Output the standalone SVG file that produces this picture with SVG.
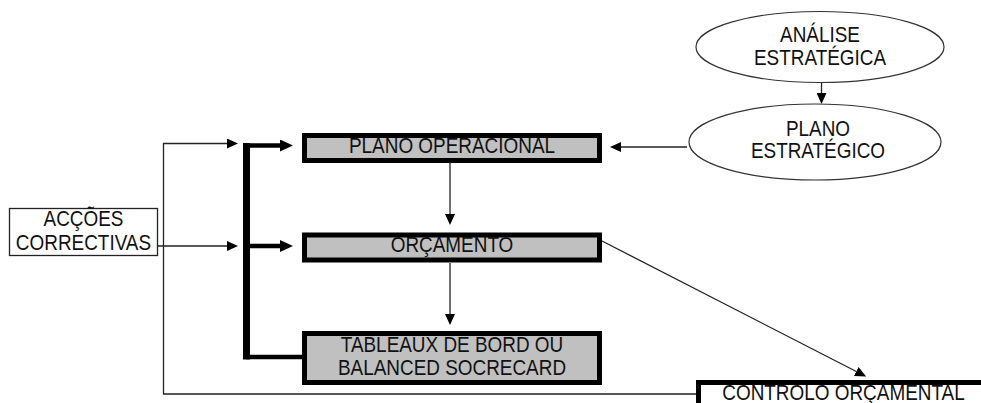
<svg xmlns="http://www.w3.org/2000/svg" width="981" height="403" viewBox="0 0 981 403">
<style>
text{font-family:"Liberation Sans",Arial,sans-serif;font-size:21.5px;fill:#111;text-anchor:middle;transform-box:fill-box;transform-origin:center;transform:scaleX(0.88)}
.box{fill:#c0c0c0;stroke:#000;stroke-width:5}
.thin{fill:none;stroke:#222;stroke-width:1.3}
.thick{fill:none;stroke:#000;stroke-width:4.5}
.ell{fill:#fff;stroke:#333;stroke-width:1.2}
</style>
<defs>
<marker id="ah" markerUnits="userSpaceOnUse" viewBox="0 0 11 10" markerWidth="11" markerHeight="10" refX="0" refY="5" orient="auto"><path d="M0,0 L11,5 L0,10 z" fill="#000"/></marker>
<marker id="ahT" markerUnits="userSpaceOnUse" viewBox="0 0 13 12" markerWidth="13" markerHeight="12" refX="0" refY="6" orient="auto"><path d="M0,0 L13,6 L0,12 z" fill="#000"/></marker>
</defs>
<rect width="981" height="403" fill="#fff"/>
<g id="connectors">
<path class="thin" d="M696 394 H163.5 V143.5 H227" marker-end="url(#ah)"/>
<path class="thin" d="M158 246 H227" marker-end="url(#ah)"/>
<path class="thin" d="M450 163 V214" marker-end="url(#ah)"/>
<path class="thin" d="M450 263 V314" marker-end="url(#ah)"/>
<path class="thin" d="M821.5 83 V93" marker-end="url(#ah)"/>
<path class="thin" d="M687 147 H621" marker-end="url(#ah)"/>
<path class="thin" d="M602 241 L856.3 371.5" marker-end="url(#ah)"/>
<line x1="246.5" y1="143" x2="246.5" y2="359.5" stroke="#000" stroke-width="7"/>
<path class="thick" d="M246.5 145.5 H280" marker-end="url(#ahT)"/>
<path class="thick" d="M246.5 246 H280" marker-end="url(#ahT)"/>
<path class="thick" d="M246.5 357 H302"/>
</g>
<g id="analise">
<ellipse class="ell" cx="820" cy="47" rx="124" ry="35.5"/>
<text x="820" y="42">ANÁLISE</text>
<text x="820" y="65">ESTRATÉGICA</text>
</g>
<g id="plano-estrategico">
<ellipse class="ell" cx="815" cy="142" rx="126" ry="38"/>
<text x="818" y="136">PLANO</text>
<text x="818" y="158">ESTRATÉGICO</text>
</g>
<g id="plano-operacional">
<rect class="box" x="304.5" y="135.5" width="295" height="25"/>
<text x="452" y="153">PLANO OPERACIONAL</text>
</g>
<g id="orcamento">
<rect class="box" x="304.5" y="235" width="295" height="25"/>
<text x="452" y="252">ORÇAMENTO</text>
</g>
<g id="tableaux">
<rect class="box" x="304.5" y="333.5" width="295" height="49"/>
<text x="452" y="352.5">TABLEAUX DE BORD OU</text>
<text x="452" y="375.5">BALANCED SOCRECARD</text>
</g>
<g id="accoes">
<rect x="9.5" y="208.5" width="148" height="47" fill="#fff" stroke="#222" stroke-width="1.3"/>
<text x="83.5" y="226">ACÇÕES</text>
<text x="83.5" y="250">CORRECTIVAS</text>
</g>
<g id="controlo">
<rect x="698.5" y="382.5" width="300" height="40" fill="#fff" stroke="#000" stroke-width="5"/>
<text x="843.5" y="400.5">CONTROLO ORÇAMENTAL</text>
</g>
</svg>
